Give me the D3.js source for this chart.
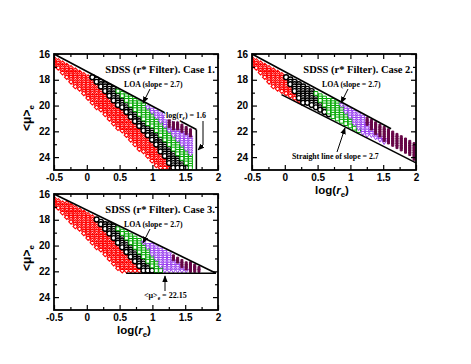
<!DOCTYPE html>
<html><head><meta charset="utf-8">
<script src="https://cdn.jsdelivr.net/npm/d3@7"></script>
<style>body{margin:0;background:#fff}</style>
</head><body>
<script>
// tick labels
var xTicks=[-0.5,0,0.5,1,1.5,2];
var yTicks=[16,18,20,22,24];
var xMinor=[-0.25,0.25,0.75,1.25,1.75];
var yMinor=[17,19,21,23];
// sampling of the model grid (log r_e, <mu>_e)
var gridStep=[0.065,0.18];

// Case 1 : regions of each magnitude bin, [log r_e, <mu>_e]
var case1Red=[[-0.5,16.0],[-0.02,17.3],[1.04,23.0],[1.32,25.0],[1.12,25.0],[-0.5,16.9]];
var case1Black=[[-0.02,17.3],[0.35,18.3],[1.6,25.0],[1.32,25.0],[1.04,23.0]];
var case1Green=[[0.35,18.3],[0.8,19.5],[1.67,24.4],[1.67,25.0],[1.6,25.0]];
var case1Purple=[[0.8,19.5],[1.22,20.65],[1.22,21.6],[1.67,22.5],[1.67,24.4]];
var case1Maroon=[[1.22,20.65],[1.67,21.86],[1.67,22.5],[1.22,21.6]];
var case1Loa=[[-0.5,16.0],[1.67,21.86]];
var case1Cut=[[1.67,21.86],[1.67,25.0]];

// Case 2
var case2Red=[[-0.5,16.0],[-0.07,17.16],[0.26,19.95],[-0.05,19.15],[-0.5,16.9]];
var case2Black=[[-0.07,17.16],[0.35,18.3],[0.75,21.1],[0.26,19.95]];
var case2Green=[[0.35,18.3],[0.78,19.45],[1.18,22.3],[0.75,21.1]];
var case2Purple=[[0.78,19.45],[1.2,20.6],[1.3,21.8],[1.58,22.9],[1.58,23.5],[1.18,22.3]];
var case2Maroon=[[1.2,20.6],[2.0,22.95],[2.0,24.2],[1.56,22.85],[1.3,21.8],[1.2,21.2]];
var case2Loa=[[-0.5,16.0],[1.62,21.8]];
var case2Lower=[[-0.05,19.15],[2.0,24.45]];

// Case 3
var case3Red=[[-0.5,16.0],[-0.02,17.2],[0.88,22.15],[0.55,22.15],[-0.5,16.9]];
var case3Black=[[-0.02,17.2],[0.35,18.1],[1.08,22.15],[0.88,22.15]];
var case3Green=[[0.35,18.1],[0.78,19.2],[1.2,22.15],[1.08,22.15]];
var case3Purple=[[0.78,19.2],[1.25,20.4],[1.3,21.1],[1.6,22.15],[1.2,22.15]];
var case3Maroon=[[1.25,20.4],[1.75,21.6],[1.75,22.15],[1.6,22.15],[1.3,21.1]];
var case3Loa=[[-0.5,16.0],[1.97,22.15]];
var case3Floor=[[0.6,22.15],[1.97,22.15]];

var colors={red:"#ff0000",black:"#000000",green:"#00a800",purple:"#9a40f0",maroon:"#670748"};
var shapes={
  red:"M0,-2.3L2.3,0L0,2.3L-2.3,0Z",
  black:d3.symbol(d3.symbolCircle,19)(),
  green:"M-1.9,-1.9H1.9V1.9H-1.9Z",
  purple:"M-2.3,-1.4H2.3L0,2.3Z",
  maroon:"M-1,-1.8H1V1.8H-1Z"
};
var strokeW={red:1.1,black:1.4,green:1,purple:1,maroon:1};

var W=471,H=364;
var svg=d3.select("body").append("svg").attr("width",W).attr("height",H)
  .style("font-family","'Liberation Serif',serif").style("font-weight","bold");

var defs=svg.append("defs");
defs.append("marker").attr("id","arr").attr("viewBox","0 0 10 10").attr("refX",9).attr("refY",5)
  .attr("markerWidth",7).attr("markerHeight",7).attr("orient","auto-start-reverse")
  .append("path").attr("d","M0,1L10,5L0,9Z").attr("fill","#000");

function lineAt(seg,x){
  var a=seg[0],b=seg[seg.length-1];
  return a[1]+(b[1]-a[1])*(x-a[0])/(b[0]-a[0]);
}

function drawPanel(o){
  var x=d3.scaleLinear().domain([-0.5,2]).range([o.left,o.left+164]);
  var y=d3.scaleLinear().domain([16,25]).range([o.top,o.top+116]);
  var g=svg.append("g");
  var cid="clip"+o.id;
  defs.append("clipPath").attr("id",cid).append("rect")
    .attr("x",o.left).attr("y",o.top).attr("width",164).attr("height",116);

  var pg=g.append("g").attr("clip-path","url(#"+cid+")");
  o.series.forEach(function(s){
    var pts=[];
    var nx=Math.round(2.5/gridStep[0]), ny=Math.round(9/gridStep[1]);
    for(var i=0;i<=nx;i++){
      for(var j=0;j<=ny;j++){
        var p=[-0.5+i*gridStep[0],16+j*gridStep[1]];
        if(!d3.polygonContains(s.poly,p)) continue;
        // keep the symbols inside the drawn boundaries
        if(p[1]<lineAt(o.upper,p[0])+0.22) continue;
        if(o.lower && p[0]>=o.lower[0][0] && p[1]>lineAt(o.lower,p[0])-o.lowPad) continue;
        if(o.maxX!=null && p[0]>o.maxX) continue;
        pts.push(p);
      }
    }
    pg.selectAll(null).data(pts).enter().append("path")
      .attr("d",shapes[s.name])
      .attr("transform",function(d){return "translate("+x(d[0])+","+y(d[1])+")";})
      .attr("fill",s.name=="maroon"?colors.maroon:"#fff")
      .attr("stroke",colors[s.name]).attr("stroke-width",strokeW[s.name]);
  });

  var line=d3.line().x(function(d){return x(d[0]);}).y(function(d){return y(d[1]);});
  o.lines.forEach(function(l){
    g.append("path").attr("d",line(l)).attr("fill","none").attr("stroke","#000").attr("stroke-width",1.6);
  });

  // axes, ticks inward on all sides
  var ax=g.append("g").style("font-family","'Liberation Serif',serif").style("font-weight","bold");
  function axis(gen,scale,ticks,len,tr,labels){
    var a=gen(scale).tickValues(ticks).tickSizeInner(len).tickSizeOuter(0).tickPadding(4);
    if(!labels) a.tickFormat("");
    else a.tickFormat(function(d){return String(d);});
    var gg=ax.append("g").attr("transform",tr).call(a);
    gg.select(".domain").remove();
    gg.selectAll("line").attr("stroke","#000").attr("stroke-width",1.2);
    gg.selectAll("text").attr("font-size",10).attr("fill","#000");
    return gg;
  }
  var b=y.range()[1], t=y.range()[0], l=x.range()[0], r=x.range()[1];
  axis(d3.axisBottom,x,xTicks,-5,"translate(0,"+b+")",true).selectAll("text")
    .attr("y",10.5).attr("dy",0);
  axis(d3.axisBottom,x,xMinor,-3,"translate(0,"+b+")",false);
  axis(d3.axisTop,x,xTicks,-5,"translate(0,"+t+")",false);
  axis(d3.axisTop,x,xMinor,-3,"translate(0,"+t+")",false);
  axis(d3.axisLeft,y,yTicks,-5,"translate("+l+",0)",true).selectAll("text").attr("x",-4);
  axis(d3.axisLeft,y,yMinor,-3,"translate("+l+",0)",false);
  axis(d3.axisRight,y,yTicks,-5,"translate("+r+",0)",false);
  axis(d3.axisRight,y,yMinor,-3,"translate("+r+",0)",false);
  g.append("rect").attr("x",l).attr("y",t).attr("width",r-l).attr("height",b-t)
    .attr("fill","none").attr("stroke","#000").attr("stroke-width",1.8);

  g.append("text").attr("x",r-3).attr("y",t+19).attr("text-anchor","end").attr("font-size",10.5)
    .text(o.title);
  g.append("text").attr("x",l+70).attr("y",t+32.5).attr("font-size",7.8)
    .text("LOA (slope = 2.7)");
  g.append("path").attr("d","M"+(l+96)+","+(t+35)+"L"+(l+89)+","+(t+49))
    .attr("stroke","#000").attr("stroke-width",1).attr("marker-end","url(#arr)");

  if(o.yTitle){
    var yt=g.append("text").attr("transform","translate("+(l-23)+","+(t+64)+") rotate(-90)")
      .attr("text-anchor","middle").attr("font-size",12)
      .style("font-family","'Liberation Sans',sans-serif");
    yt.append("tspan").text("<\u03bc>");
    yt.append("tspan").attr("font-size",8).attr("dy",3).text("e");
  }
  if(o.xTitle){
    var xt=g.append("text").attr("x",(l+r)/2-2).attr("y",b+23.5).attr("text-anchor","middle").attr("font-size",11.5)
      .style("font-family","'Liberation Sans',sans-serif");
    xt.append("tspan").text("log(");
    xt.append("tspan").attr("font-style","italic").text("r");
    xt.append("tspan").attr("font-size",8).attr("dy",3).text("e");
    xt.append("tspan").attr("dy",-3).text(")");
  }
  return {g:g,x:x,y:y};
}

var p1=drawPanel({id:1,left:54,top:54,title:"SDSS (r* Filter). Case 1.",yTitle:true,xTitle:false,
  series:[{name:"red",poly:case1Red},{name:"black",poly:case1Black},{name:"green",poly:case1Green},
          {name:"purple",poly:case1Purple},{name:"maroon",poly:case1Maroon}],
  lines:[case1Loa,case1Cut],upper:case1Loa,maxX:1.62});
var p2=drawPanel({id:2,left:252,top:54,title:"SDSS (r* Filter). Case 2.",yTitle:false,xTitle:true,
  series:[{name:"red",poly:case2Red},{name:"black",poly:case2Black},{name:"green",poly:case2Green},
          {name:"purple",poly:case2Purple},{name:"maroon",poly:case2Maroon}],
  lines:[case2Loa,case2Lower],upper:case2Loa,lower:case2Lower,lowPad:0.22});
var p3=drawPanel({id:3,left:54,top:194,title:"SDSS (r* Filter). Case 3.",yTitle:true,xTitle:true,
  series:[{name:"red",poly:case3Red},{name:"black",poly:case3Black},{name:"green",poly:case3Green},
          {name:"purple",poly:case3Purple},{name:"maroon",poly:case3Maroon}],
  lines:[case3Loa,case3Floor],upper:case3Loa,lower:[[-0.5,22.15],[2,22.15]],lowPad:0.15});

// Case 1 note: log(r_e) = 1.6
var n1=p1.g.append("text").attr("x",166).attr("y",118).attr("font-size",8)
  .attr("stroke","#fff").attr("stroke-width",2.5).attr("paint-order","stroke");
n1.append("tspan").text("log(r");
n1.append("tspan").attr("font-size",5.5).attr("dy",2).text("e");
n1.append("tspan").attr("dy",-2).text(") = 1.6");
p1.g.append("path").attr("d","M203,121V145L198,150").attr("fill","none")
  .attr("stroke","#000").attr("stroke-width",1).attr("marker-end","url(#arr)");

// Case 2 note
p2.g.append("text").attr("x",292).attr("y",159).attr("font-size",7.8)
  .text("Straight line of slope = 2.7");
p2.g.append("path").attr("d","M337,152L345,128").attr("fill","none")
  .attr("stroke","#000").attr("stroke-width",1).attr("marker-end","url(#arr)");

// Case 3 note
var n3=p3.g.append("text").attr("x",144).attr("y",298).attr("font-size",8);
n3.append("tspan").text("<\u03bc>");
n3.append("tspan").attr("font-size",5.5).attr("dy",2).text("e");
n3.append("tspan").attr("dy",-2).text(" = 22.15");
p3.g.append("path").attr("d","M165,291V276").attr("fill","none")
  .attr("stroke","#000").attr("stroke-width",1).attr("marker-end","url(#arr)");
</script>
</body></html>
